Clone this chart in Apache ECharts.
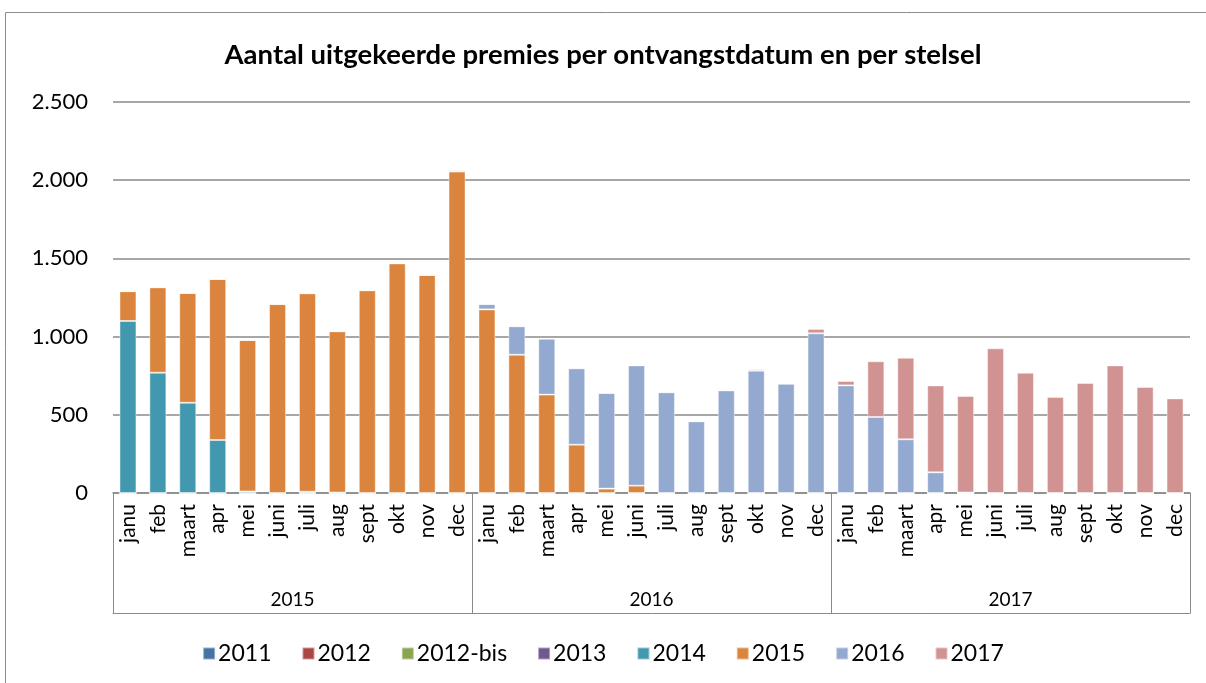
<!DOCTYPE html>
<html><head><meta charset="utf-8">
<script src="https://cdn.jsdelivr.net/npm/echarts@6/dist/echarts.min.js"></script>
<style>html,body{margin:0;padding:0;background:#fff}#c{width:1206px;height:683px}</style>
</head><body><div id="c"></div>
<script>
const months = ['janu','feb','maart','apr','mei','juni','juli','aug','sept','okt','nov','dec'];
const years = ['2015','2016','2017'];
const categories = [].concat(months, months, months);
const seriesNames = ['2011','2012','2012-bis','2013','2014','2015','2016','2017'];
const colors = ['#4572A7','#AA4643','#89A54E','#71588F','#4198AF','#DB843D','#93A9CF','#D19392'];
const s2011    = [0,0,0,0,0,0,0,0,0,0,0,0, 0,0,0,0,0,0,0,0,0,0,0,0, 0,0,0,0,0,0,0,0,0,0,0,0];
const s2012    = [0,0,0,0,0,0,0,0,0,0,0,0, 0,0,0,0,0,0,0,0,0,0,0,0, 0,0,0,0,0,0,0,0,0,0,0,0];
const s2012bis = [0,0,0,0,0,0,0,0,0,0,0,0, 0,0,0,0,0,0,0,0,0,0,0,0, 0,0,0,0,0,0,0,0,0,0,0,0];
const s2013    = [0,0,0,0,0,0,0,0,0,0,0,0, 0,0,0,0,0,0,0,0,0,0,0,0, 0,0,0,0,0,0,0,0,0,0,0,0];
const s2014    = [1100,769,577,339,10,0,8,3,0,0,0,0, 0,0,0,0,0,0,0,0,0,0,0,0, 0,0,0,0,0,0,0,0,0,0,0,0];
const s2015    = [190,546,702,1029,968,1208,1269,1031,1296,1468,1394,2055, 1174,884,629,309,28,47,0,0,0,0,0,0, 0,0,0,0,0,0,0,0,0,0,0,0];
const s2016    = [0,0,0,0,0,0,0,0,0,0,0,10, 34,182,358,488,611,769,644,458,656,782,698,1021, 688,486,343,132,3,0,0,0,0,0,0,0];
const s2017    = [0,0,0,0,0,0,0,0,0,0,0,0, 0,0,0,0,0,0,0,0,3,9,3,28, 28,356,522,556,617,925,769,614,703,816,678,605];
const seriesData = [s2011,s2012,s2012bis,s2013,s2014,s2015,s2016,s2017];

const FONT = 'Lato, "Open Sans", sans-serif';
const gray = '#8a8a8a';
const chart = echarts.init(document.getElementById('c'), null, {renderer:'canvas'});
chart.setOption({
  animation:false,
  color: colors,
  textStyle:{fontFamily:FONT, color:'#000'},
  title:{text:'Aantal uitgekeerde premies per ontvangstdatum en per stelsel', left:'center', top:36,
    textStyle:{fontFamily:FONT, fontWeight:'bold', fontSize:27.5, color:'#000'}},
  graphic:[{type:'rect', shape:{x:5.5,y:12.5,width:1220,height:700}, style:{fill:'none', stroke:'#8c8c8c', lineWidth:1}, silent:true}],
  legend:{bottom:13, left:'center', itemWidth:12, itemHeight:12, itemGap:30, icon:'rect',
    textStyle:{fontFamily:FONT, fontSize:23, color:'#000', padding:[0,0,0,-2]}, data:seriesNames},
  grid:{left:113, right:16, top:102, bottom:190, containLabel:false},
  xAxis:[
    {type:'category', data:categories, gridIndex:0, position:'bottom',
      axisLine:{lineStyle:{color:gray, width:1.5}}, axisTick:{show:false},
      axisLabel:{rotate:90, interval:0, margin:11, fontSize:21, color:'#000', fontFamily:FONT}},
    {type:'category', data:years, gridIndex:0, position:'bottom', offset:120,
      axisLine:{lineStyle:{color:gray, width:1}},
      axisTick:{show:true, inside:true, length:120, interval:0, lineStyle:{color:gray, width:1}},
      axisLabel:{inside:true, margin:4, fontSize:19, color:'#000', fontFamily:FONT}}
  ],
  yAxis:{type:'value', min:0, max:2500, interval:500,
    axisLine:{show:false}, axisTick:{show:false},
    splitLine:{lineStyle:{color:gray, width:1.5}},
    axisLabel:{margin:25, fontSize:22, color:'#000', fontFamily:FONT,
      formatter:v => String(v).replace(/\B(?=(\d{3})+(?!\d))/g,'.')}},
  series: seriesNames.map((n,i)=>({name:n, type:'bar', stack:'t', xAxisIndex:0, data:seriesData[i],
    barWidth:17, itemStyle:{color:colors[i], borderColor:'rgba(255,255,255,0.45)', borderWidth:1}}))
});
</script></body></html>
